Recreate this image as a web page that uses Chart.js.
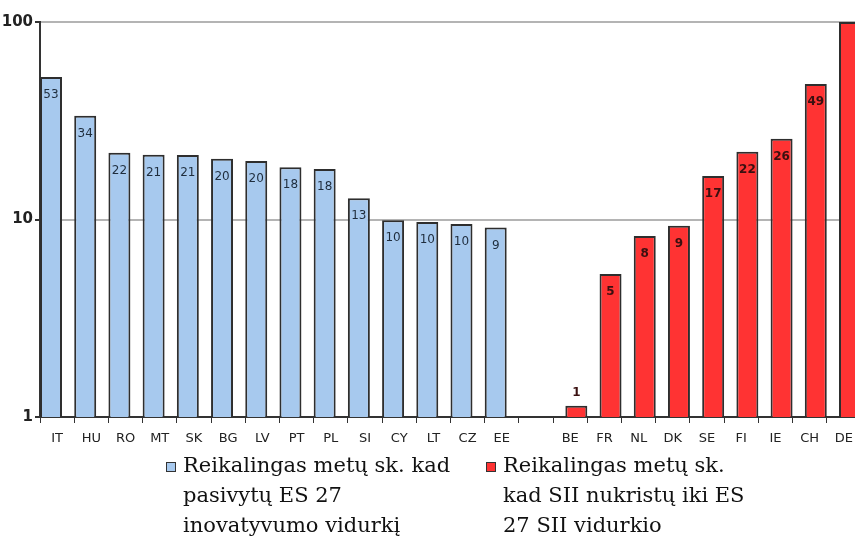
<!DOCTYPE html>
<html>
<head>
<meta charset="utf-8">
<script src="https://cdn.jsdelivr.net/npm/chart.js@4.4.0/dist/chart.umd.min.js"></script>
<style>
  html, body { margin: 0; padding: 0; background: #fff; overflow: hidden; }
  #wrap { width: 855px; height: 544px; overflow: hidden; position: relative; }
  canvas { position: absolute; left: 0; top: 0; }
</style>
</head>
<body>
<div id="wrap"><canvas id="myChart" width="870" height="544"></canvas></div>
<script>
var blueCountries = ['IT', 'HU', 'RO', 'MT', 'SK', 'BG', 'LV', 'PT', 'PL', 'SI', 'CY', 'LT', 'CZ', 'EE'];
var blueValues = [52.7, 33.5, 21.8, 21.3, 21.2, 20.3, 19.8, 18.4, 18.0, 12.8, 9.9, 9.7, 9.5, 9.1];
var redCountries = ['BE', 'FR', 'NL', 'DK', 'SE', 'FI', 'IE', 'CH', 'DE'];
var redValues = [1.14, 5.3, 8.25, 9.3, 16.6, 22.0, 25.6, 48.5, 100];
var yTicks = [1, 10, 100];
var blueLabel = ['Reikalingas metų sk. kad', 'pasivytų ES 27', 'inovatyvumo vidurkį'];
var redLabel = ['Reikalingas metų sk.', 'kad SII nukristų iki ES', '27 SII vidurkio'];

var labels = blueCountries.concat([''], redCountries);
var blueData = blueValues.concat(new Array(1 + redCountries.length).fill(null));
var redData = new Array(blueCountries.length + 1).fill(null).concat(redValues);

// bar numbers drawn inside the bars (or above when the bar is too short)
var barNumbers = {
    id: 'barNumbers',
    afterDatasetsDraw: function(chart) {
        var ctx = chart.ctx;
        var yScale = chart.scales.y;
        ctx.save();
        ctx.textAlign = 'center';
        ctx.textBaseline = 'middle';
        chart.data.datasets.forEach(function(ds, di) {
            chart.getDatasetMeta(di).data.forEach(function(bar, i) {
                var v = ds.data[i];
                if (v === null || v >= yScale.max) return;
                ctx.font = (di === 1 ? 'bold ' : '') + '12px "DejaVu Sans"';
                ctx.fillStyle = di === 1 ? '#3a1010' : '#1f2d3d';
                var h = bar.base - bar.y;
                if (h < 30) {
                    ctx.fillText(Math.round(v), bar.x, bar.y - 13);
                } else {
                    ctx.fillText(Math.round(v), bar.x, bar.y + 18);
                }
            });
        });
        ctx.restore();
    }
};

// legend at the bottom, multi-line serif text
var bottomLegend = {
    id: 'bottomLegend',
    afterDraw: function(chart) {
        var ctx = chart.ctx;
        var items = [
            { x: 166, color: '#a7c9ee', lines: blueLabel },
            { x: 486, color: '#ff3333', lines: redLabel }
        ];
        ctx.save();
        ctx.font = '21px "DejaVu Serif"';
        ctx.textBaseline = 'middle';
        ctx.textAlign = 'left';
        items.forEach(function(it) {
            ctx.fillStyle = it.color;
            ctx.fillRect(it.x, 462, 10, 10);
            ctx.strokeStyle = '#333';
            ctx.lineWidth = 1;
            ctx.strokeRect(it.x + 0.5, 462.5, 9, 9);
            ctx.fillStyle = '#111';
            it.lines.forEach(function(t, k) {
                ctx.fillText(t, it.x + 17, 467 + k * 30);
            });
        });
        ctx.restore();
    }
};

var ctx = document.getElementById('myChart').getContext('2d');
var myChart = new Chart(ctx, {
    type: 'bar',
    data: {
        labels: labels,
        datasets: [{
            label: blueLabel.join(' '),
            data: blueData,
            backgroundColor: '#a7c9ee',
            borderColor: '#2e2e2e',
            borderWidth: 2
        },
        {
            label: redLabel.join(' '),
            data: redData,
            backgroundColor: '#ff3333',
            borderColor: '#2e2e2e',
            borderWidth: 2
        }]
    },
    options: {
        responsive: false,
        animation: false,
        categoryPercentage: 0.714,
        barPercentage: 1.8,
        layout: {
            padding: { top: 22, right: 9, bottom: 99, left: 0 }
        },
        plugins: {
            legend: { display: false },
            tooltip: { enabled: false }
        },
        scales: {
            x: {
                grid: {
                    display: true,
                    drawOnChartArea: false,
                    drawTicks: true,
                    tickLength: 6,
                    offset: true,
                    color: '#333'
                },
                border: { color: '#333', width: 2 },
                ticks: {
                    color: '#222',
                    font: { family: 'DejaVu Sans', size: 13 },
                    padding: 8,
                    maxRotation: 0,
                    autoSkip: false
                },
                afterFit: function(scale) { scale.height = 28; }
            },
            y: {
                type: 'logarithmic',
                min: 1,
                max: 100,
                afterBuildTicks: function(scale) {
                    scale.ticks = yTicks.map(function(v) { return { value: v, major: true }; });
                },
                grid: {
                    color: function(c) { return c.tick && c.tick.value === 1 ? 'rgba(0,0,0,0)' : '#b4b4b4'; },
                    lineWidth: 2,
                    tickLength: 5,
                    tickColor: '#333'
                },
                border: { color: '#333', width: 2 },
                ticks: {
                    color: '#222',
                    font: { family: 'DejaVu Sans', size: 15, weight: 'bold' },
                    padding: 2,
                    callback: function(v) { return v; }
                },
                afterFit: function(scale) { scale.width = 40; }
            }
        }
    },
    plugins: [barNumbers, bottomLegend]
});
</script>
</body>
</html>
